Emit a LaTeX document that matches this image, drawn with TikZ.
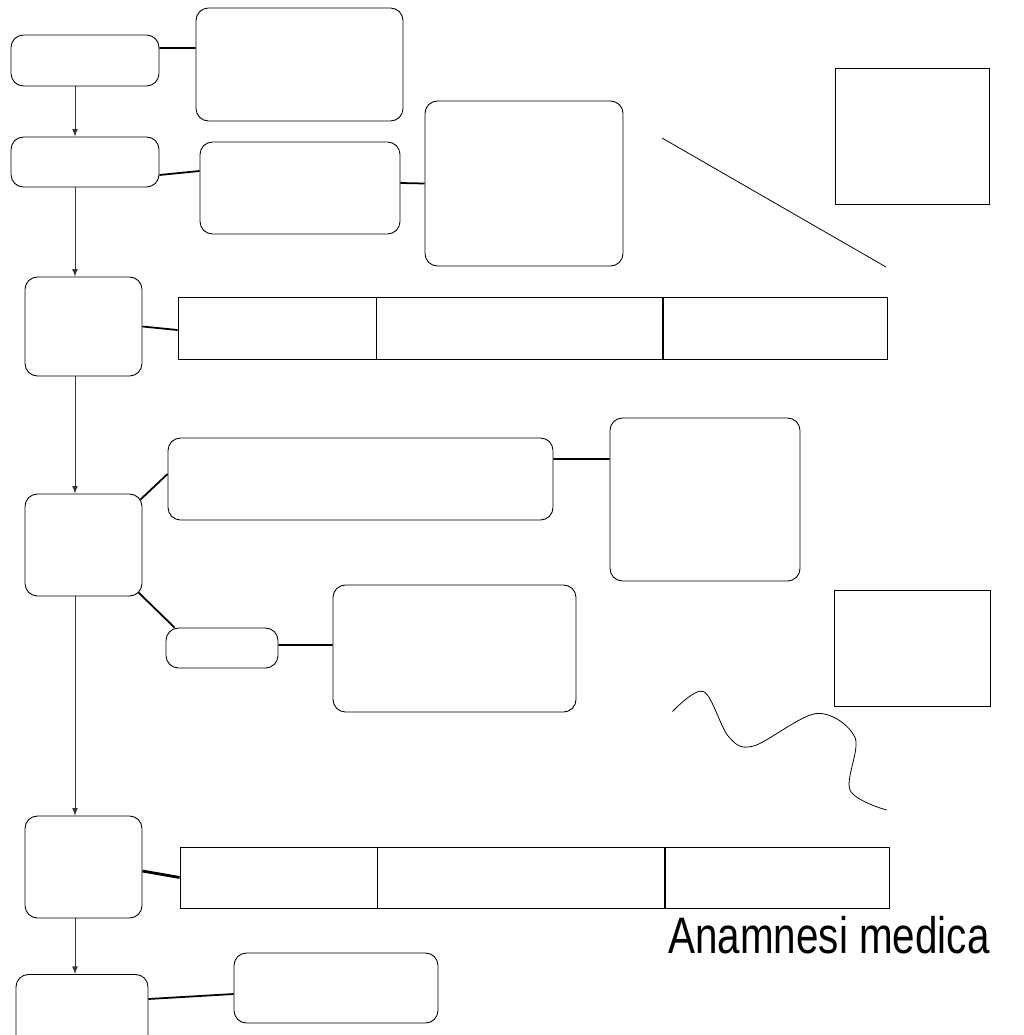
\documentclass[tikz,border=0pt]{standalone}
\usepackage{fontspec}
\setmainfont{Liberation Sans}
\usepackage{tikz}
\usetikzlibrary{arrows}
\tikzstyle{box} = [rectangle, rounded corners=0.25cm, draw=black, line width=0.5pt, inner sep=0pt]
\tikzstyle{cell} = [rectangle, draw=black, line width=0.45pt, inner sep=0pt, minimum height=1.24cm]
\tikzstyle{frame} = [rectangle, draw=black, line width=0.45pt, inner sep=0pt]
\tikzstyle{link} = [line width=1pt]
\tikzstyle{arrow} = [line width=0.5pt, draw=black!80, ->, >=latex]
\tikzstyle{title} = [font=\fontsize{23}{28}\selectfont, inner sep=0pt]

\begin{document}
\begin{tikzpicture}
\useasboundingbox (0,0) rectangle (20.46,-20.7);
\clip (0,0) rectangle (20.46,-20.7);
  \node (start) [box, minimum width=2.96cm, minimum height=1.02cm] at (1.70,-1.21) {};
  \node (startInfo) [box, minimum width=4.14cm, minimum height=2.26cm] at (5.99,-1.29) {};
  \node (visit) [box, minimum width=2.96cm, minimum height=1.00cm] at (1.70,-3.24) {};
  \node (visitInfo) [box, minimum width=4.00cm, minimum height=1.84cm] at (6.00,-3.76) {};
  \node (visitDetail) [box, minimum width=3.96cm, minimum height=3.30cm] at (10.48,-3.67) {};
  \node (frameTop) [frame, minimum width=3.08cm, minimum height=2.72cm] at (18.24,-2.72) {};
  \node (history) [box, minimum width=2.34cm, minimum height=1.98cm] at (1.67,-6.53) {};
  \node (histA) [cell, minimum width=3.96cm] at (5.54,-6.56) {};
  \node (histB) [cell, minimum width=5.72cm, anchor=west] at (histA.east) {};
  \node (histC) [cell, minimum width=4.48cm, anchor=west] at (histB.east) {};
  \node (exam) [box, minimum width=2.34cm, minimum height=2.04cm] at (1.67,-10.90) {};
  \node (examLong) [box, minimum width=7.70cm, minimum height=1.64cm] at (7.21,-9.58) {};
  \node (examNote) [box, minimum width=3.80cm, minimum height=3.26cm] at (14.10,-9.99) {};
  \node (examShort) [box, minimum width=2.24cm, minimum height=0.80cm] at (4.44,-12.96) {};
  \node (examText) [box, minimum width=4.86cm, minimum height=2.54cm] at (9.09,-12.97) {};
  \node (frameLow) [frame, minimum width=3.12cm, minimum height=2.32cm] at (18.24,-12.96) {};
  \node (therapy) [box, minimum width=2.34cm, minimum height=2.04cm] at (1.67,-17.34) {};
  \node (therA) [cell, minimum width=3.94cm, minimum height=1.22cm] at (5.57,-17.55) {};
  \node (therB) [cell, minimum width=5.74cm, minimum height=1.22cm, anchor=west] at (therA.east) {};
  \node (therC) [cell, minimum width=4.48cm, minimum height=1.22cm, anchor=west] at (therB.east) {};
  \node (title) [title, anchor=base west] at (13.36,-19.06) {\scalebox{1}[1.27]{Anamnesi medica}};
  \node (closing) [box, minimum width=2.64cm, minimum height=1.62cm, anchor=north] at (1.64,-19.48) {};
  \node (closingInfo) [box, minimum width=4.08cm, minimum height=1.40cm] at (6.72,-19.76) {};

  \draw[arrow] ([xshift=-0.2cm]start.south) -- ([xshift=-0.2cm]visit.north);
  \draw[arrow] ([xshift=-0.2cm]visit.south) -- ([xshift=-0.17cm]history.north);
  \draw[arrow] ([xshift=-0.17cm]history.south) -- ([xshift=-0.17cm]exam.north);
  \draw[arrow] ([xshift=-0.17cm]exam.south) -- ([xshift=-0.17cm]therapy.north);
  \draw[arrow] ([xshift=-0.17cm]therapy.south) -- ([xshift=-0.14cm]closing.north);

  \draw[link] ([yshift=0.25cm]start.east) -- ([yshift=0.33cm]startInfo.west);
  \draw[link] ([yshift=-0.26cm]visit.east) -- ([yshift=0.34cm]visitInfo.west);
  \draw[link] ([yshift=0.1cm]visitInfo.east) -- (visitDetail.west);
  \draw[link] (history.east) -- ([yshift=-0.04cm]histA.west);
  \draw[link] ([shift={(-0.04,-0.12)}]exam.north east) -- ([yshift=0.1cm]examLong.west);
  \draw[link] ([yshift=0.4cm]examLong.east) -- ([yshift=0.81cm]examNote.west);
  \draw[link] ([shift={(-0.08,0.08)}]exam.south east) -- ([xshift=0.18cm]examShort.north west);
  \draw[link] ([yshift=0.06cm]examShort.east) -- ([yshift=0.07cm]examText.west);
  \draw[link, line width=1.6pt] ([yshift=-0.08cm]therapy.east) -- (therA.west);
  \draw[link] ([yshift=-0.5cm]closing.north east) -- ([yshift=-0.12cm]closingInfo.west);

  \draw[line width=0.45pt] (13.24,-2.76) -- (17.72,-5.34);
  \draw[line width=0.45pt] plot[smooth, tension=0.55] coordinates {(13.45,-14.23) (14.07,-13.83) (14.57,-14.73) (15.07,-14.92) (16.33,-14.27) (17.1,-14.75) (17.00,-15.80) (17.73,-16.20)};
\end{tikzpicture}
\end{document}
